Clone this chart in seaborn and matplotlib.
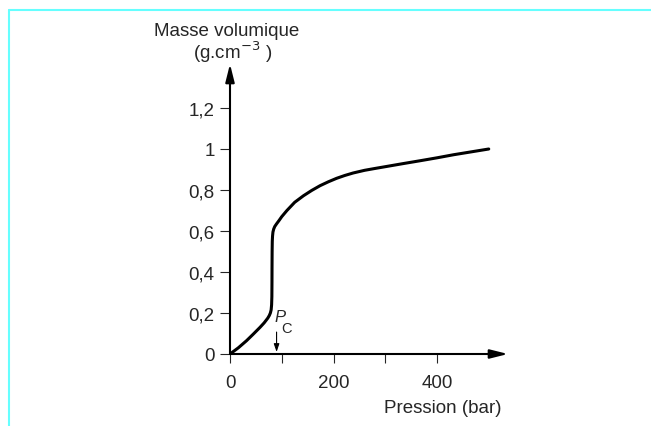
import matplotlib
matplotlib.use("Agg")
import matplotlib.pyplot as plt
import seaborn as sns
from matplotlib.lines import Line2D

# Données : masse volumique en fonction de la pression
pression = [0, 16, 32, 45, 58, 66, 73, 76, 78, 79.5, 80.4, 80.9, 81.1, 81.2,
            81.4, 81.7, 82.2, 83, 84.5, 86.5, 90, 95, 100, 110, 125, 142, 158,
            174, 190, 206, 222, 238, 260, 280, 303, 335, 368, 400, 432, 466,
            500]
masse_vol = [0, 0.03, 0.065, 0.097, 0.13, 0.152, 0.175, 0.188, 0.2, 0.215,
             0.24, 0.28, 0.35, 0.42, 0.5, 0.55, 0.575, 0.595, 0.61, 0.622,
             0.635, 0.652, 0.67, 0.70, 0.74, 0.772, 0.798, 0.821, 0.84,
             0.857, 0.871, 0.883, 0.896, 0.905, 0.915, 0.929, 0.943, 0.957,
             0.972, 0.986, 1.0]

x_ticks = [0, 100, 200, 300, 400]
x_labels = ['0', '', '200', '', '400']
y_ticks = [0, 0.2, 0.4, 0.6, 0.8, 1.0, 1.2]
y_labels = ['0', '0,2', '0,4', '0,6', '0,8', '1', '1,2']
p_critique = 90

sns.set_style("white")
plt.rcParams['font.family'] = ['Liberation Sans', 'DejaVu Sans']
plt.rcParams['font.size'] = 13.5

fig = plt.figure(figsize=(6.51, 4.27), dpi=100)
ax = fig.add_axes([230 / 651, 72 / 427, 278 / 651, 290 / 427])

sns.lineplot(x=pression, y=masse_vol, sort=False, estimator=None,
             color='black', linewidth=2.2, ax=ax)
ax.lines[-1].set_solid_joinstyle('round')

ax.set_xlim(0, 278 / 0.5175)
ax.set_ylim(0, 290 / 205)
for s in ax.spines.values():
    s.set_visible(False)

# axes avec flèches
fleche = dict(arrowstyle='-|>,head_length=0.8,head_width=0.2', lw=1.5,
              color='black', shrinkA=0, shrinkB=0)
ax.annotate('', xy=(1, 0), xycoords='axes fraction', xytext=(0, 0),
            arrowprops=fleche, annotation_clip=False)
ax.annotate('', xy=(0, 1), xycoords='axes fraction', xytext=(0, 0),
            arrowprops=fleche, annotation_clip=False)

ax.set_xticks(x_ticks)
ax.set_xticklabels(x_labels)
ax.set_yticks(y_ticks)
ax.set_yticklabels(y_labels)
ax.tick_params(axis='x', direction='out', length=6.5, width=0.8, pad=8,
               bottom=True, labelsize=13.5)
ax.tick_params(axis='y', direction='out', length=7.5, width=0.8, pad=3.5,
               left=True, labelsize=13.5)
ax.set_xlabel('')
ax.set_ylabel('')

# Pc
ax.text(85, 0.161, 'P', fontsize=12, style='italic', ha='left',
        va='baseline')
ax.text(99, 0.107, 'C', fontsize=10.5, ha='left', va='baseline')
ax.annotate('', xy=(p_critique, 0.01), xytext=(p_critique, 0.107),
            arrowprops=dict(arrowstyle='-|>,head_length=0.35,head_width=0.12',
                            lw=0.8, color='black', shrinkA=0, shrinkB=0))

# titres des axes
fig.text(227 / 651, 1 - 31 / 427, 'Masse volumique', ha='center',
         va='center', fontsize=13.5)
fig.text(233 / 651, 1 - 52 / 427, r'(g.cm$^{-3}$ )', ha='center',
         va='center', fontsize=13.5)
fig.text(502 / 651, 1 - 409 / 427, 'Pression (bar)', ha='right',
         va='center', fontsize=13.5)

# cadre cyan
fig.add_artist(Line2D([9 / 651, 1], [1 - 11 / 427, 1 - 11 / 427],
                      color='#66ffff', lw=1.5))
fig.add_artist(Line2D([9 / 651, 9 / 651], [0, 1 - 11 / 427],
                      color='#66ffff', lw=1.5))

fig.savefig('out.png', dpi=100)
